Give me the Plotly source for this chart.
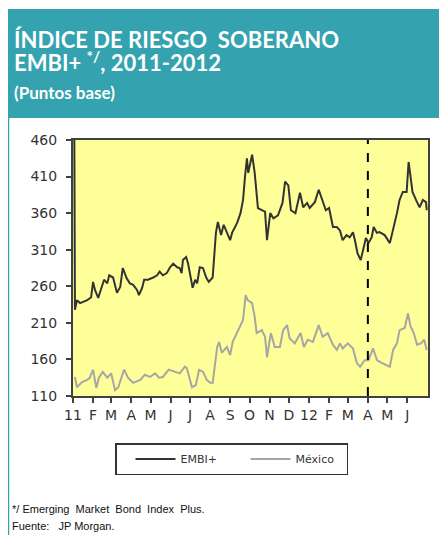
import plotly.graph_objects as go

embi_dates = ["2011-01-03","2011-01-04","2011-01-07","2011-01-12","2011-01-23","2011-01-29","2011-02-01","2011-02-04","2011-02-09","2011-02-15","2011-02-18","2011-02-23","2011-02-26","2011-03-04","2011-03-07","2011-03-10","2011-03-15","2011-03-19","2011-03-25","2011-03-30","2011-04-04","2011-04-10","2011-04-13","2011-04-18","2011-04-21","2011-04-27","2011-05-05","2011-05-11","2011-05-15","2011-05-20","2011-05-26","2011-05-31","2011-06-05","2011-06-11","2011-06-15","2011-06-18","2011-06-20","2011-06-25","2011-06-28","2011-07-01","2011-07-05","2011-07-09","2011-07-12","2011-07-16","2011-07-21","2011-07-26","2011-07-30","2011-08-05","2011-08-07","2011-08-10","2011-08-13","2011-08-18","2011-08-22","2011-08-27","2011-09-01","2011-09-04","2011-09-12","2011-09-17","2011-09-21","2011-09-24","2011-09-27","2011-09-29","2011-10-05","2011-10-09","2011-10-14","2011-10-20","2011-10-25","2011-10-28","2011-11-02","2011-11-07","2011-11-14","2011-11-21","2011-11-25","2011-11-30","2011-12-04","2011-12-11","2011-12-18","2011-12-23","2011-12-29","2012-01-02","2012-01-10","2012-01-16","2012-01-22","2012-01-27","2012-02-01","2012-02-07","2012-02-13","2012-02-18","2012-02-22","2012-02-28","2012-03-04","2012-03-09","2012-03-12","2012-03-16","2012-03-21","2012-03-24","2012-03-29","2012-04-02","2012-04-07","2012-04-10","2012-04-15","2012-04-19","2012-04-27","2012-05-05","2012-05-10","2012-05-16","2012-05-20","2012-05-25","2012-05-31","2012-06-03","2012-06-06","2012-06-09","2012-06-16","2012-06-20","2012-06-25","2012-06-30","2012-07-01"]
embi_values = [480,228,241,237,241,245,266,255,244,262,269,264,275,272,259,251,259,285,271,264,262,255,248,258,269,269,272,275,280,275,278,286,291,286,285,278,296,300,291,278,258,269,264,286,285,272,266,272,296,333,348,330,344,333,323,333,347,360,378,410,435,415,440,415,367,364,362,323,360,353,357,374,403,398,364,360,388,368,374,367,375,392,375,364,367,341,341,336,323,330,327,334,323,305,296,307,326,319,327,341,333,334,330,319,337,360,378,389,389,430,410,389,375,368,378,375,364]

mexico_dates = ["2011-01-04","2011-01-07","2011-01-15","2011-01-23","2011-01-27","2011-02-01","2011-02-06","2011-02-10","2011-02-16","2011-02-23","2011-03-01","2011-03-07","2011-03-12","2011-03-21","2011-03-27","2011-04-04","2011-04-15","2011-04-22","2011-04-30","2011-05-08","2011-05-14","2011-05-20","2011-05-29","2011-06-08","2011-06-15","2011-06-23","2011-06-26","2011-07-04","2011-07-10","2011-07-15","2011-07-21","2011-07-27","2011-08-01","2011-08-05","2011-08-08","2011-08-12","2011-08-15","2011-08-19","2011-08-27","2011-09-01","2011-09-05","2011-09-13","2011-09-21","2011-09-25","2011-09-28","2011-10-05","2011-10-09","2011-10-12","2011-10-20","2011-10-25","2011-10-28","2011-11-03","2011-11-09","2011-11-17","2011-11-22","2011-11-28","2011-12-02","2011-12-10","2011-12-19","2011-12-24","2011-12-30","2012-01-07","2012-01-16","2012-01-22","2012-01-30","2012-02-07","2012-02-13","2012-02-18","2012-02-22","2012-03-01","2012-03-09","2012-03-15","2012-03-20","2012-03-27","2012-04-02","2012-04-09","2012-04-15","2012-04-23","2012-05-05","2012-05-10","2012-05-16","2012-05-20","2012-05-28","2012-06-02","2012-06-06","2012-06-11","2012-06-16","2012-06-22","2012-06-27","2012-07-01"]
mexico_values = [136,122,129,132,135,146,121,135,143,135,141,118,122,146,135,128,132,139,136,141,135,136,146,143,141,150,148,122,125,146,143,132,128,128,148,177,184,169,177,166,184,200,214,248,241,237,218,196,200,191,163,196,177,177,200,207,189,182,196,177,187,184,207,191,196,180,173,182,175,182,175,155,150,159,159,175,159,155,150,173,182,200,203,223,205,196,180,182,187,173]

month_ticks = ["2011-01-01","2011-02-01","2011-03-01","2011-04-01","2011-05-01","2011-06-01","2011-07-01","2011-08-01","2011-09-01","2011-10-01","2011-11-01","2011-12-01","2012-01-01","2012-02-01","2012-03-01","2012-04-01","2012-05-01","2012-06-01"]
month_labels = ["11","F","M","A","M","J","J","A","S","O","N","D","12","F","M","A","M","J"]
y_ticks = [110,160,210,260,310,360,410,460]
marker_date = "2012-04-01"

# page has an 8px body margin; the figure is sized to fit the visible window
OFF = 8
W, H = 447 - OFF, 535 - OFF
L = 73 - OFF
T = 140 - OFF
R = W - (428 - OFF)
B = H - (396 - OFF)
pw, ph = W - L - R, H - T - B

def px_x(p):
    return (p - OFF - L) / pw

def px_y(p):
    return (H - B - (p - OFF)) / ph

TEAL = "#35A2AF"

fig = go.Figure()
fig.add_trace(go.Scatter(x=embi_dates, y=embi_values, mode="lines", name="EMBI+",
                         line=dict(color="#333333", width=2)))
fig.add_trace(go.Scatter(x=mexico_dates, y=mexico_values, mode="lines", name="México",
                         line=dict(color="#A6A6A6", width=2)))

fig.add_shape(type="line", xref="x", yref="paper", x0=marker_date, x1=marker_date, y0=0, y1=1,
              line=dict(color="black", width=2, dash="dash"))

# header band
fig.add_shape(type="rect", xref="paper", yref="paper", x0=px_x(7), x1=px_x(450), y0=px_y(118), y1=px_y(9),
              fillcolor=TEAL, line=dict(width=0), layer="below")
fig.add_shape(type="line", xref="paper", yref="paper", x0=px_x(8.5), x1=px_x(8.5), y0=px_y(118), y1=px_y(540),
              line=dict(color=TEAL, width=1.5))

title_font = dict(family="Lato", size=22, color="white")
fig.add_annotation(xref="paper", yref="paper", x=px_x(12), y=px_y(39), xanchor="left", yanchor="middle",
                   text="<b>ÍNDICE DE RIESGO  SOBERANO</b>", showarrow=False, font=title_font)
fig.add_annotation(xref="paper", yref="paper", x=px_x(12), y=px_y(61), xanchor="left", yanchor="middle",
                   text="<b>EMBI+ <sup>*/</sup>, 2011-2012</b>", showarrow=False, font=title_font)
fig.add_annotation(xref="paper", yref="paper", x=px_x(12), y=px_y(92), xanchor="left", yanchor="middle",
                   text="<b>(Puntos base)</b>", showarrow=False, font=dict(family="Lato", size=17, color="white"))

foot_font = dict(family="Liberation Sans", size=11, color="#111111")
fig.add_annotation(xref="paper", yref="paper", x=px_x(10), y=px_y(509), xanchor="left", yanchor="middle",
                   text="*/ Emerging  Market  Bond  Index  Plus.", showarrow=False, font=foot_font)
fig.add_annotation(xref="paper", yref="paper", x=px_x(10), y=px_y(526), xanchor="left", yanchor="middle",
                   text="Fuente:   JP Morgan.", showarrow=False, font=foot_font)

axis_font = dict(family="DejaVu Sans", size=14, color="#333333")
fig.update_xaxes(type="date", range=["2011-01-01", "2012-07-03"], tickvals=month_ticks, ticktext=month_labels,
                 ticks="outside", ticklen=5, tickwidth=1.5, tickcolor="#404040", tickfont=axis_font,
                 showline=True, linecolor="#404040", linewidth=2, mirror=True, showgrid=False, zeroline=False)
fig.update_yaxes(range=[110, 460], tickvals=y_ticks, ticks="outside", ticklen=5, tickwidth=1.5,
                 tickcolor="#404040", tickfont=axis_font, ticklabelstandoff=6,
                 showline=True, linecolor="#404040", linewidth=2, mirror=True, showgrid=False, zeroline=False)

fig.update_layout(width=W, height=H, margin=dict(l=L, r=R, t=T, b=B),
                  paper_bgcolor="white", plot_bgcolor="#FFFF99",
                  showlegend=True,
                  legend=dict(orientation="h", x=px_x(115), y=px_y(443), xanchor="left", yanchor="top",
                              bordercolor="#333333", borderwidth=1.5, bgcolor="white",
                              font=dict(family="DejaVu Sans", size=11, color="#333333"),
                              entrywidth=46, indentation=14, itemwidth=40))

fig.write_html("out.html")
